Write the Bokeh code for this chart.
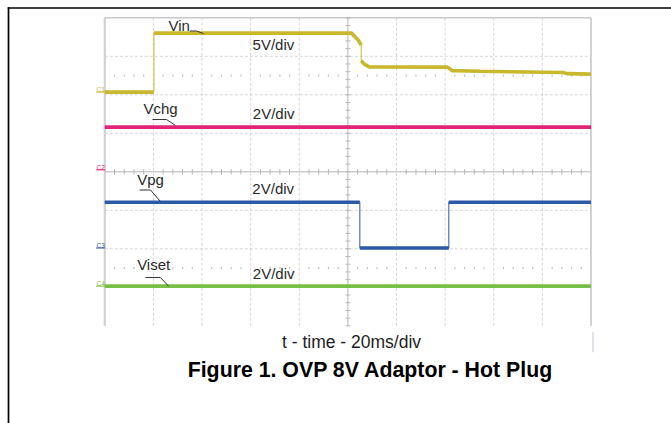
import numpy as np
from bokeh.plotting import figure
from bokeh.models import Range1d
from bokeh.core.properties import value
from bokeh.embed import file_html
from bokeh.resources import INLINE

# ---------------- data (time in ms, 20 ms/div; voltages in V) ----------------
vin_t = [0, 20.2, 20.2, 101.5, 104.2, 105.5, 105.5, 106.6, 108.7, 140.8, 142.9, 154.5, 188.5, 190.0, 200]
vin_v = [0.0, 0.0, 7.66, 7.66, 6.78, 6.10, 4.09, 3.66, 3.28, 3.25, 2.79, 2.70, 2.55, 2.40, 2.33]
vchg_t = [0, 200]
vchg_v = [2.22, 2.22]
vpg_t = [0, 104.9, 104.9, 141.5, 141.5, 200]
vpg_v = [2.38, 2.38, 0.0, 0.0, 2.38, 2.38]
viset_t = [0, 200]
viset_v = [0.0, 0.0]

channel_names = ["Vin", "Vchg", "Vpg", "Viset"]
channel_tags = ["C1", "C2", "C3", "C4"]
volts_per_div = [5, 2, 2, 2]
ground_div = [6.07, 4.05, 2.02, 1.03]
scale_labels = ["5V/div", "2V/div", "2V/div", "2V/div"]
colors = ["#c9b82e", "#e3257a", "#2d5aa6", "#78bf45"]
time_label = "t - time - 20ms/div"
caption = "Figure 1. OVP 8V Adaptor - Hot Plug"

FONT = value("Liberation Sans")

# ---------------- figure: the frame covers the whole canvas ----------------
W, H = 671, 423
PX_PER_MS = 2.431
PX_PER_DIV = 38.5
x0 = -104.3 / PX_PER_MS
y1 = 8 + 17.3 / PX_PER_DIV
p = figure(width=W, height=H, output_backend="svg", toolbar_location=None,
           x_range=Range1d(x0, x0 + W / PX_PER_MS), y_range=Range1d(y1 - H / PX_PER_DIV, y1),
           x_axis_type=None, y_axis_type=None, min_border=0)
p.outline_line_color = None
p.xgrid.visible = False
p.ygrid.visible = False
p.background_fill_color = "white"
p.border_fill_color = "white"

XR = p.x_range
YR = p.y_range

# page border (top and left)
bx = x0 + 8.0 / PX_PER_MS
by = y1 - 7.5 / PX_PER_DIV
p.segment(x0=[bx - 0.3, bx], y0=[by, by + 0.02], x1=[XR.end, bx], y1=[by, YR.start],
          line_color="black", line_width=1.7)

# ---------------- scope graticule ----------------
div_t = list(range(0, 201, 20))
div_y = list(range(0, 9))
inner_t = [t for t in div_t if t not in (0, 100, 200)]
inner_y = [y for y in div_y if y not in (0, 4, 8)]
p.segment(x0=inner_t, y0=[0] * len(inner_t), x1=inner_t, y1=[8] * len(inner_t),
          line_color="#d6d6d6", line_width=1, line_dash="3 2")
p.segment(x0=[0] * len(inner_y), y0=inner_y, x1=[200] * len(inner_y), y1=inner_y,
          line_color="#d6d6d6", line_width=1, line_dash="3 2")
# frame edges
p.segment(x0=[0], y0=[0], x1=[0], y1=[8], line_color="#d2d2d2", line_width=2.2)
p.segment(x0=[200], y0=[0], x1=[200], y1=[8], line_color="#c4c4c4", line_width=1.5)
p.segment(x0=[0], y0=[8], x1=[200], y1=[8], line_color="#c8c8c8", line_width=1.5)
# centre lines
p.segment(x0=[100, 0], y0=[0, 4], x1=[100, 200], y1=[8, 4], line_color="#b6b6b6", line_width=1)
minor_y = np.arange(0, 8.001, 0.2)
p.segment(x0=100 - 1.0, y0=minor_y, x1=100 + 1.0, y1=minor_y, line_color="#b6b6b6", line_width=1)
minor_t = np.array([t for t in range(4, 200, 4) if t % 20 != 0])
p.segment(x0=minor_t, y0=4 - 0.07, x1=minor_t, y1=4 + 0.07, line_color="#b6b6b6", line_width=1)
for yy in (1.5, 6.5):
    p.segment(x0=minor_t, y0=yy - 0.03, x1=minor_t, y1=yy + 0.03, line_color="#c4c4c4", line_width=1.2)
# small stray mark below the right edge
p.segment(x0=[200.8], y0=[-0.17], x1=[200.8], y1=[-0.69], line_color="#cfd0dc", line_width=1.2)

# ---------------- traces ----------------
series = [(vin_t, vin_v), (vchg_t, vchg_v), (vpg_t, vpg_v), (viset_t, viset_v)]
for (ts, vs), g, vpd, c in zip(series, ground_div, volts_per_div, colors):
    ys = [g + v / vpd for v in vs]
    # thin full path (vertical edges)
    p.line(ts, ys, line_color=c, line_width=1.2, line_alpha=0.85)
    # thick levels, broken at vertical jumps
    bt, byy = [ts[0]], [ys[0]]
    for i in range(1, len(ts)):
        if ts[i] == ts[i - 1]:
            bt.append(np.nan)
            byy.append(np.nan)
        bt.append(ts[i])
        byy.append(ys[i])
    p.line(bt, byy, line_color=c, line_width=3.6)

# channel ground markers
tag_x = [-3.4] * 4
p.segment(x0=[-3.6] * 4, y0=ground_div, x1=[0] * 4, y1=ground_div, line_color=colors, line_width=1)
p.text(x=tag_x, y=[g + 0.07 for g in ground_div], text=channel_tags, text_color=colors,
       text_font=FONT, text_font_size="6.5px", text_baseline="alphabetic", text_align="left")

# ---------------- labels ----------------
name_x = [26.2, 15.9, 13.3, 13.3]
name_y = [7.80, 5.65, 3.81, 1.60]
p.text(x=name_x, y=name_y, text=channel_names, text_color="#2a2a2a", text_font=FONT,
       text_font_size="15px", text_baseline="alphabetic", text_align="left")
sc_x = [60.8, 60.9, 60.7, 60.9]
sc_y = [7.31, 5.51, 3.56, 1.35]
p.text(x=sc_x, y=sc_y, text=scale_labels, text_color="#2a2a2a", text_font=FONT,
       text_font_size="15px", text_baseline="alphabetic", text_align="left")
# pointer lines from names to traces
ptr_x = [[35.0, 37.7, 40.6], [19.6, 25.4, 29.1], [14.3, 18.8, 22.9], [16.7, 22.9, 26.2]]
ptr_y = [[7.657, 7.657, 7.592], [5.358, 5.358, 5.203], [3.527, 3.527, 3.229], [1.255, 1.255, 1.03]]
p.multi_line(xs=ptr_x, ys=ptr_y, line_color="#333333", line_width=1)

p.text(x=[101.5], y=[-0.41], text=[time_label], text_color="#1e1e1e", text_font=FONT,
       text_font_size="17.5px", text_baseline="middle", text_align="center")
p.text(x=[109.3], y=[-1.14], text=[caption], text_color="black", text_font=FONT,
       text_font_size="21.3px", text_font_style="bold", text_baseline="middle", text_align="center")

open("out.html", "w").write(file_html(p, INLINE))
